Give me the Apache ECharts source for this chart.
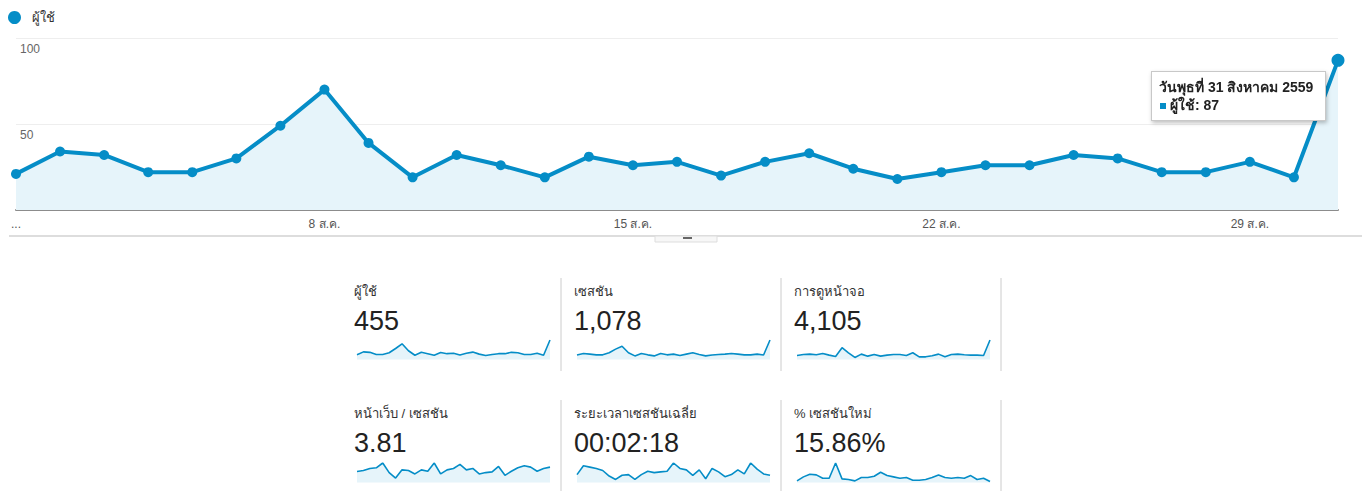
<!DOCTYPE html>
<html>
<head>
<meta charset="utf-8">
<script src="https://cdn.jsdelivr.net/npm/echarts@6/dist/echarts.min.js"></script>
<style>
html, body { margin: 0; padding: 0; background: #fff; }
#main { width: 1367px; height: 491px; }
</style>
</head>
<body>
<div id="main"></div>
<script>
// วันที่ในเดือนสิงหาคม
var days = ['1 ส.ค.','2 ส.ค.','3 ส.ค.','4 ส.ค.','5 ส.ค.','6 ส.ค.','7 ส.ค.','8 ส.ค.','9 ส.ค.','10 ส.ค.',
    '11 ส.ค.','12 ส.ค.','13 ส.ค.','14 ส.ค.','15 ส.ค.','16 ส.ค.','17 ส.ค.','18 ส.ค.','19 ส.ค.','20 ส.ค.',
    '21 ส.ค.','22 ส.ค.','23 ส.ค.','24 ส.ค.','25 ส.ค.','26 ส.ค.','27 ส.ค.','28 ส.ค.','29 ส.ค.','30 ส.ค.','31 ส.ค.'];
var users = [21,34,32,22,22,30,49,70,39,19,32,26,19,31,26,28,20,28,33,24,18,22,26,26,32,30,22,22,28,19,87];
var sessions = [26,35,31,27,27,39,60,77,39,21,35,27,21,35,27,31,23,31,39,29,21,26,29,31,35,31,27,27,31,26,113];
var pageviews = [112,140,149,130,167,121,84,326,186,56,149,93,140,93,121,140,140,112,186,74,74,102,149,74,140,149,130,121,121,112,540];
var pagesPerSession = [3.30,3.61,4.23,4.43,5.88,2.99,1.34,3.81,3.61,2.58,3.81,3.40,5.88,2.58,3.81,4.23,5.46,3.81,4.23,2.58,2.99,3.20,4.85,2.16,3.40,4.43,5.05,4.64,3.40,4.23,4.64];
var avgDuration = [106,225,207,189,161,87,41,97,106,41,106,152,133,143,152,262,189,170,97,170,51,189,143,78,106,170,115,262,179,115,97];
var newSessionPct = [5,17,25,23,13,13,59,11,9,5,15,15,19,31,21,17,13,15,7,7,9,15,23,15,13,15,13,21,9,13,3];

var yMin = 0, yMax = 100, yStep = 50;
var xTickIdx = [0, 7, 14, 21, 28];
var tipDate = 'วันพุธที่ 31 สิงหาคม 2559';
var seriesName = 'ผู้ใช้';

var cardLabels = ['ผู้ใช้', 'เซสชัน', 'การดูหน้าจอ', 'หน้าเว็บ / เซสชัน', 'ระยะเวลาเซสชันเฉลี่ย', '% เซสชันใหม่'];
var cardValues = ['455', '1,078', '4,105', '3.81', '00:02:18', '15.86%'];
var cardData = [users, sessions, pageviews, pagesPerSession, avgDuration, newSessionPct];

var FONT = 'Arial, "Liberation Sans", "Noto Sans", sans-serif';
var BLUE = '#058dc7';
var FILL = '#e6f4fa';

var myChart = echarts.init(document.getElementById('main'), null, { renderer: 'svg' });

var grids = [{ left: 16, right: 29, top: 38, bottom: 281 }];
var xAxes = [{
    type: 'category', gridIndex: 0, data: days, boundaryGap: false,
    axisTick: { show: false },
    axisLine: { lineStyle: { color: '#8c8c8c', width: 2 } },
    axisLabel: {
        margin: 8, color: '#555', fontSize: 12, fontFamily: FONT,
        interval: function (idx) { return xTickIdx.indexOf(idx) >= 0; },
        formatter: function (v, idx) { return idx === 0 ? '...' : v; }
    }
}];
var yAxes = [{
    type: 'value', gridIndex: 0, min: yMin, max: yMax, interval: yStep,
    axisLine: { show: false }, axisTick: { show: false },
    splitLine: { lineStyle: { color: '#eeeeee', width: 1 } },
    axisLabel: {
        inside: true, showMinLabel: false, margin: 4, verticalAlign: 'top',
        padding: [5, 0, 0, 0], color: '#666', fontSize: 12, fontFamily: FONT
    }
}];
var series = [{
    name: seriesName, type: 'line', xAxisIndex: 0, yAxisIndex: 0,
    symbol: 'circle', symbolSize: 10, showAllSymbol: true,
    lineStyle: { color: BLUE, width: 4 },
    itemStyle: { color: BLUE },
    areaStyle: { color: FILL, opacity: 1 },
    emphasis: { disabled: true },
    data: users.map(function (v, i) {
        return i === users.length - 1 ? { value: v, symbolSize: 13 } : v;
    })
}];
var graphics = [];

cardData.forEach(function (data, k) {
    var c = k % 3, r = Math.floor(k / 3);
    var gi = k + 1;
    grids.push({ left: 357 + 220 * c, width: 193, top: r === 0 ? 340 : 463, height: 19.5 });
    xAxes.push({ type: 'category', gridIndex: gi, data: days, boundaryGap: false, show: false });
    yAxes.push({ type: 'value', gridIndex: gi, min: 0, max: 'dataMax', show: false, splitLine: { show: false } });
    series.push({
        name: cardLabels[k], type: 'line', xAxisIndex: gi, yAxisIndex: gi,
        showSymbol: false, silent: true, tooltip: { show: false },
        lineStyle: { color: BLUE, width: 1.6 },
        areaStyle: { color: FILL, opacity: 1 },
        data: data
    });
    var tx = 354 + 220 * c;
    graphics.push({
        type: 'text', x: tx, y: r === 0 ? 291 : 413,
        style: { text: cardLabels[k], fill: '#333', font: '13px ' + FONT, verticalAlign: 'middle' }
    });
    graphics.push({
        type: 'text', x: tx, y: r === 0 ? 321 : 443,
        style: { text: cardValues[k], fill: '#222', font: '27px ' + FONT, verticalAlign: 'middle' }
    });
});

// เส้นคั่นการ์ด
[561, 781, 1001].forEach(function (x) {
    graphics.push({ type: 'line', shape: { x1: x, y1: 278, x2: x, y2: 371 }, style: { stroke: '#cccccc', lineWidth: 1 } });
    graphics.push({ type: 'line', shape: { x1: x, y1: 400, x2: x, y2: 491 }, style: { stroke: '#cccccc', lineWidth: 1 } });
});
// เส้นใต้กราฟ และแท็บเล็กๆ
graphics.push({ type: 'line', shape: { x1: 9, y1: 236, x2: 1362, y2: 236 }, style: { stroke: '#dddddd', lineWidth: 2 } });
graphics.push({ type: 'rect', shape: { x: 655, y: 236, width: 62, height: 6 }, style: { fill: '#f7f7f7', stroke: '#dddddd', lineWidth: 1 } });
graphics.push({ type: 'rect', shape: { x: 683, y: 237, width: 9, height: 2 }, style: { fill: '#666' } });

option = {
    animation: false,
    textStyle: { fontFamily: FONT },
    legend: {
        data: [seriesName], left: 8, top: 11, padding: 0,
        icon: 'circle', itemWidth: 13, itemHeight: 13,
        textStyle: { color: '#333', fontSize: 13, fontFamily: FONT, padding: [0, 0, 0, 6] }
    },
    tooltip: {
        trigger: 'item', alwaysShowContent: true, position: [1151, 71],
        transitionDuration: 0, showDelay: 0,
        backgroundColor: '#fff', borderColor: '#c8c8c8', borderWidth: 1, borderRadius: 0,
        padding: [6, 7],
        extraCssText: 'width:159px;height:36px;box-shadow:1px 2px 4px rgba(0,0,0,0.25);line-height:18px;white-space:nowrap;',
        textStyle: { color: '#222', fontSize: 14, fontFamily: FONT },
        formatter: function (p) {
            return '<div style="font-weight:bold">' + tipDate + '</div>' +
                '<div style="font-weight:bold"><span style="display:inline-block;width:6px;height:6px;background:' + BLUE +
                ';margin:0 4px 0 1px;vertical-align:middle"></span>' + p.seriesName + ': ' + p.value + '</div>';
        }
    },
    grid: grids,
    xAxis: xAxes,
    yAxis: yAxes,
    series: series,
    graphic: graphics
};

myChart.setOption(option, true);
myChart.dispatchAction({ type: 'showTip', seriesIndex: 0, dataIndex: users.length - 1 });
</script>
</body>
</html>
